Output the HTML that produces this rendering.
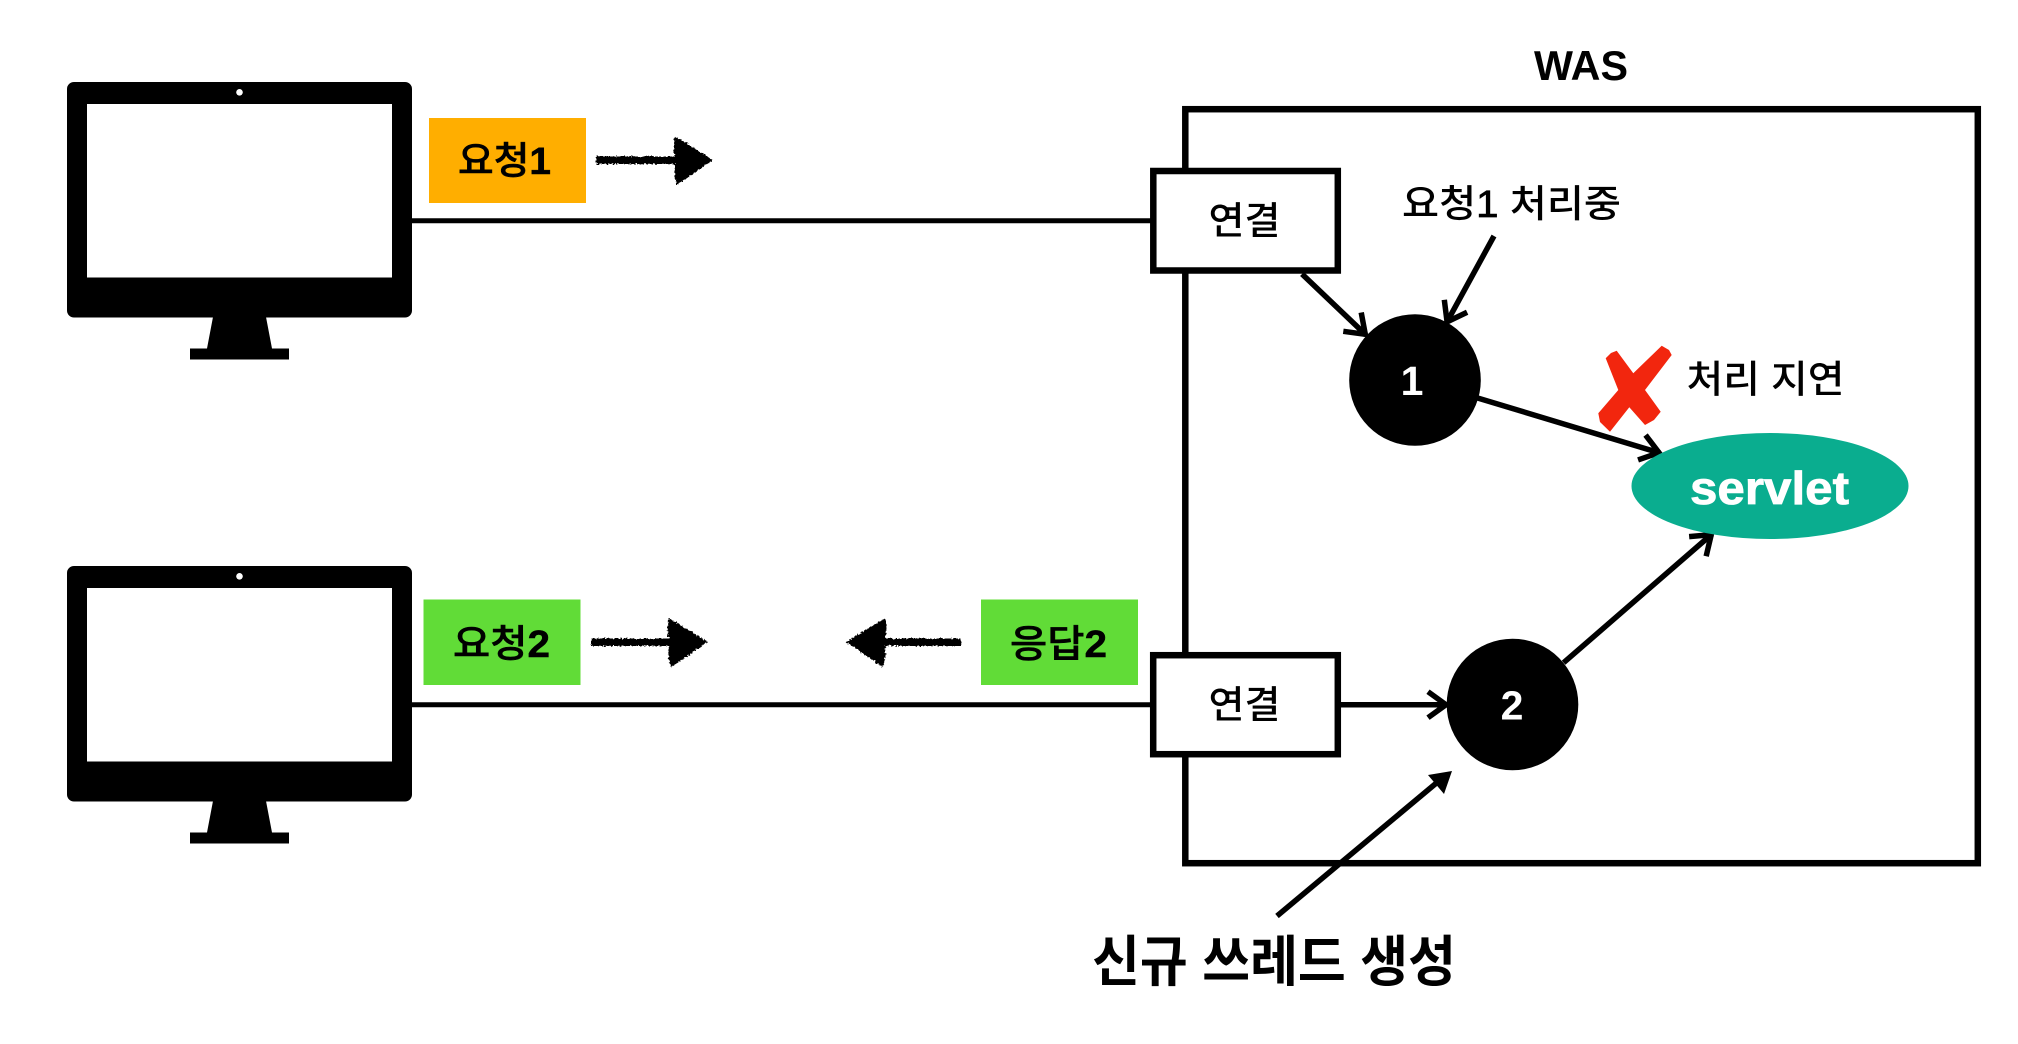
<!DOCTYPE html>
<html lang="ko">
<head>
<meta charset="utf-8">
<style>
html,body{margin:0;padding:0;background:#fff;width:2018px;height:1044px;overflow:hidden}
svg{display:block}
text{font-family:"Liberation Sans","Noto Sans CJK KR",sans-serif;fill:#000}
</style>
</head>
<body>
<svg width="2018" height="1044" viewBox="0 0 2018 1044" xmlns="http://www.w3.org/2000/svg">
<defs>
<marker id="o" markerUnits="userSpaceOnUse" markerWidth="60" markerHeight="60" refX="30" refY="30" orient="auto" overflow="visible">
<path d="M11,17 L29,30 L11,43" fill="none" stroke="#000" stroke-width="5.500"/>
</marker>
<filter id="sk" x="-20%" y="-60%" width="140%" height="220%">
<feTurbulence type="fractalNoise" baseFrequency="0.45" numOctaves="2" seed="4"/>
<feDisplacementMap in="SourceGraphic" scale="4" xChannelSelector="R" yChannelSelector="G"/>
</filter>
<g id="mon">
<path fill-rule="evenodd" fill="#000" d="M74,0 H405 a7,7 0 0 1 7,7 V228.500 a7,7 0 0 1 -7,7 H74 a7,7 0 0 1 -7,-7 V7 a7,7 0 0 1 7,-7 Z M87,22 V195.500 H392 V22 Z"/>
<path fill="#000" d="M213,235 H266 L272,266.500 H289 V277.500 H190 V266.500 H207 Z"/>
<circle cx="239.500" cy="10.300" r="3.300" fill="#fff"/>
</g>
</defs>
<rect width="2018" height="1044" fill="#fff"/>

<use href="#mon" y="82"/>
<use href="#mon" y="566"/>

<rect x="1185.300" y="109.200" width="792.500" height="754" fill="none" stroke="#000" stroke-width="6.500"/>
<line x1="411" y1="220.700" x2="1152" y2="220.700" stroke="#000" stroke-width="5"/>
<line x1="411" y1="704.700" x2="1152" y2="704.700" stroke="#000" stroke-width="5"/>

<rect x="429" y="118" width="157" height="85" fill="#FFAE00"/>
<rect x="423.500" y="599.500" width="157" height="85.500" fill="#61DC37"/>
<rect x="981" y="599.500" width="157" height="85.500" fill="#61DC37"/>

<text x="458" y="174" font-size="38" font-weight="500" stroke="#000" stroke-width=".5" textLength="93" lengthAdjust="spacingAndGlyphs">요청<tspan font-weight="700">1</tspan></text>
<text x="453" y="657" font-size="38" font-weight="500" stroke="#000" stroke-width=".5" textLength="97" lengthAdjust="spacingAndGlyphs">요청<tspan font-weight="700">2</tspan></text>
<text x="1010" y="657" font-size="38" font-weight="500" stroke="#000" stroke-width=".5" textLength="97" lengthAdjust="spacingAndGlyphs">응답<tspan font-weight="700">2</tspan></text>

<g filter="url(#sk)" fill="#000">
<path d="M596,156.500 H675 Q672,146 675,136 L713,160 L677,185 Q673,174 675,164 H596 Z"/>
<path d="M591,638.500 H669 Q666,628 669,618 L708,642 L671,667 Q667,656 669,646 H591 Z"/>
<path d="M961,638.500 H885 Q888,628 885,618 L846,642 L883,667 Q887,656 885,646 H961 Z"/>
</g>

<rect x="1153.300" y="171" width="184.500" height="99.500" fill="#fff" stroke="#000" stroke-width="6.500"/>
<rect x="1153.200" y="655.200" width="184.600" height="99" fill="#fff" stroke="#000" stroke-width="6.500"/>
<text x="1208.500" y="234" font-size="38" font-weight="500" textLength="72" lengthAdjust="spacingAndGlyphs">연결</text>
<text x="1208.500" y="718" font-size="38" font-weight="500" textLength="72" lengthAdjust="spacingAndGlyphs">연결</text>

<text x="1534" y="80" font-size="42" font-weight="700" textLength="94" lengthAdjust="spacingAndGlyphs">WAS</text>
<text x="1402" y="217" font-size="38" font-weight="500" textLength="219" lengthAdjust="spacingAndGlyphs">요청<tspan stroke="#000" stroke-width=".7">1</tspan> 처리중</text>
<text x="1686.500" y="392.500" font-size="38" font-weight="500" textLength="158" lengthAdjust="spacingAndGlyphs">처리 지연</text>

<g fill="none" stroke="#000" stroke-width="5.500" marker-end="url(#o)">
<line x1="1302" y1="274" x2="1366" y2="335"/>
<line x1="1494" y1="236" x2="1446.600" y2="322.700"/>
<line x1="1477.600" y1="398" x2="1660" y2="453"/>
<line x1="1341" y1="704.700" x2="1447" y2="704.700"/>
<line x1="1563.600" y1="662.700" x2="1712" y2="534"/>
</g>
<line x1="1277" y1="916" x2="1440" y2="780" stroke="#000" stroke-width="5.500"/>
<path d="M1452,771 L1444,794 L1428,775 Z" fill="#000"/>

<circle cx="1415" cy="380" r="65.800" fill="#000"/>
<circle cx="1512.500" cy="704.500" r="65.800" fill="#000"/>
<ellipse cx="1770" cy="486" rx="138.500" ry="53" fill="#0AAD8F"/>

<text x="1412" y="395" font-size="41" font-weight="700" text-anchor="middle" style="fill:#fff">1</text>
<text x="1512" y="719.500" font-size="41" font-weight="700" text-anchor="middle" style="fill:#fff">2</text>
<text x="1690" y="504" font-size="46" font-weight="700" textLength="159" lengthAdjust="spacingAndGlyphs" stroke="#fff" stroke-width=".8" style="fill:#fff">servlet</text>

<path fill="#F2260E" d="M1605.700,358.300 L1611,353 L1616.700,350.700 L1633.300,373.300 L1661.700,345.700 L1669,350 L1671.700,355 L1645,390 L1660.700,411.700 L1654,420 L1645,425 L1629.300,407.300 L1610,431.700 L1600,422 L1598.300,413.300 L1618.300,390 Z"/>

<text x="1092" y="981" font-size="55" font-weight="700" textLength="364" lengthAdjust="spacingAndGlyphs">신규 쓰레드 생성</text>
</svg>
</body>
</html>
